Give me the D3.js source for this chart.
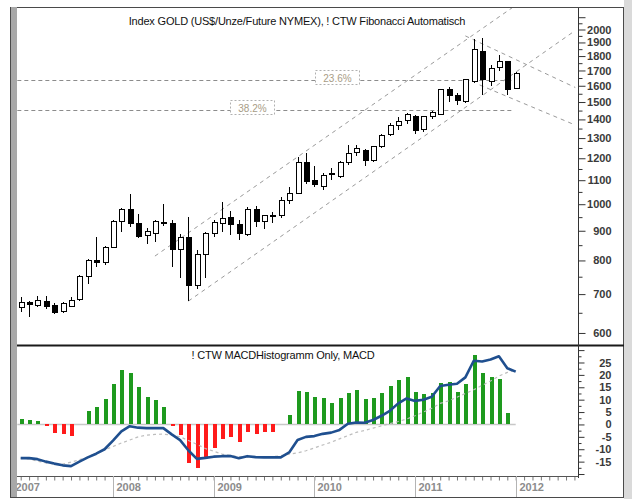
<!DOCTYPE html>
<html>
<head>
<meta charset="utf-8">
<script src="https://cdn.jsdelivr.net/npm/d3@7"></script>
<style>
    body { margin:0; background:#fff; }
    svg text { font-family:"Liberation Sans", Arial, sans-serif; }
</style>
</head>
<body>
<div id="chartWrapper"></div>
<script>
//monthly candles, Feb 2007 - Jan 2012
const months = [
    '2007-02','2007-03','2007-04','2007-05','2007-06','2007-07','2007-08','2007-09','2007-10','2007-11','2007-12',
    '2008-01','2008-02','2008-03','2008-04','2008-05','2008-06','2008-07','2008-08','2008-09','2008-10','2008-11','2008-12',
    '2009-01','2009-02','2009-03','2009-04','2009-05','2009-06','2009-07','2009-08','2009-09','2009-10','2009-11','2009-12',
    '2010-01','2010-02','2010-03','2010-04','2010-05','2010-06','2010-07','2010-08','2010-09','2010-10','2010-11','2010-12',
    '2011-01','2011-02','2011-03','2011-04','2011-05','2011-06','2011-07','2011-08','2011-09','2011-10','2011-11','2011-12',
    '2012-01'
];
const opens = [
    663,676,668,681,670,653,667,684,752,801,792,
    843,933,981,927,882,890,930,927,837,875,725,820,
    890,927,949,922,887,980,933,955,955,1015,1044,1180,
    1100,1072,1125,1115,1180,1226,1237,1191,1255,1319,1368,1393,
    1418,1345,1418,1430,1579,1541,1501,1625,1831,1625,1719,1760,
    1585
];
const highs = [
    692,680,694,694,676,679,692,755,804,879,848,
    938,984,1041,960,909,938,1000,938,890,952,833,897,
    940,1010,973,940,988,991,958,971,1030,1072,1206,1226,
    1166,1130,1155,1185,1266,1266,1245,1260,1320,1380,1416,1435,
    1425,1420,1445,1580,1592,1555,1645,1925,1932,1735,1811,1765,
    1690
];
const lows = [
    651,640,665,660,647,650,665,681,730,780,786,
    840,897,915,873,854,861,916,780,745,681,713,745,
    879,897,885,867,880,915,907,929,945,1000,1040,1085,
    1070,1060,1100,1110,1170,1210,1163,1180,1250,1310,1340,1375,
    1320,1330,1400,1425,1501,1482,1495,1615,1541,1600,1697,1541,
    1580
];
const closes = [
    676,672,683,667,650,674,683,752,801,792,843,
    933,981,927,881,896,933,926,837,875,725,820,890,
    929,945,923,890,980,933,955,955,1015,1044,1180,1095,
    1083,1122,1130,1180,1222,1247,1191,1255,1315,1364,1389,1430,
    1340,1418,1440,1574,1541,1508,1641,1844,1637,1713,1760,1574,
    1678
];

//MACD panel
const histogram = [
    2.1,1.6,1.2,-0.5,-3.6,-3.9,-4.6,0,5.5,7.1,10.1,
    16.5,21.9,20.6,15.2,11.1,9.8,7.1,-0.5,-4.3,-15.7,-17.7,-13.7,
    -9.7,-6.0,-5.2,-6.9,-3.0,-3.9,-3.0,-3.1,0,3.8,13.6,13.2,
    11.2,10.5,8.7,10.5,12.8,14.1,10.1,10.5,12.8,15.6,17.9,19.0,
    13.2,12.1,12.8,16.8,17.2,13.2,16.5,28.2,20.8,19.2,18.3,4.7,
    null
];
const macdLine = [
    -13.6,-13.6,-14.0,-15.0,-15.8,-16.5,-16.8,-15.0,-13.3,-11.8,-10.0,
    -6.5,-2.8,-0.7,-1.3,-1.5,-1.5,-1.5,-4.0,-6.3,-10.5,-13.9,-13.5,
    -13.0,-12.8,-12.7,-13.6,-12.8,-13.2,-13.3,-13.3,-13.3,-11.3,-6.3,-5.0,
    -4.7,-3.8,-3.3,-2.2,0.3,0.8,0.7,1.8,3.5,5.5,8.5,10.5,
    9.5,10.0,11.2,15.5,16.0,16.4,19.0,25.7,25.4,26.2,27.5,22.7,
    21.3
];
const signalLine = [
    -13.6,-14.0,-14.8,-15.5,-16.0,-16.0,-15.2,-14.2,-13.2,-11.5,-10.3,
    -8.9,-7.5,-6.3,-5.0,-4.3,-4.0,-3.9,-4.3,-5.0,-6.5,-8.0,-9.7,
    -10.8,-12.0,-12.5,-13.0,-13.0,-13.0,-13.0,-13.0,-12.6,-12.0,-11.5,-10.6,
    -9.5,-8.3,-7.2,-5.8,-4.5,-3.2,-2.4,-1.5,-0.6,0.3,1.2,2.2,
    3.5,5.0,6.5,8.5,9.5,11.0,12.5,14.0,15.8,17.5,19.5,21.0,
    22.0
];

//axis ticks and labels
const priceTicks = [600,700,800,900,1000,1100,1200,1300,1400,1500,1600,1700,1800,1900,2000,2100];
const priceMinorTicks = [650,750,850,950,1050,1150,1250,1350,1450,1550,1650,1750,1850,1950,2050];
const macdTicks = [-20,-15,-10,-5,0,5,10,15,20,25,30];
const macdMinorTicks = [-17.5,-12.5,-7.5,-2.5,2.5,7.5,12.5,17.5,22.5,27.5];
const yearLabels = ['2007','2008','2009','2010','2011','2012'];

//fibonacci levels: label, price, month position of the label box
const fibLabels = ['23.6%','38.2%'];
const fibPrices = [1637,1453];
const fibLabelAt = [36.1,25.9];

//trend lines: [month from, price from, month to, price to]
const trendLines = [
    [17.0,814,61.7,2290],
    [21.0,681,67.1,1992],
    [54.0,1950,67.1,1589],
    [55.7,1605,67.1,1369]
];

const CONSTANTS = {
    WIDTH:632,
    HEIGHT:499,
    FRAME_LEFT:10,      //outer frame line on the left
    PLOT_LEFT:17,       //inner edge of the gray band
    AXIS_X:578,         //the right value axis
    FRAME_RIGHT:624,
    FRAME_TOP:7,
    PRICE_TOP:8,
    PRICE_BOTTOM:345,
    MACD_TOP:347,
    MACD_BOTTOM:476,
    FRAME_BOTTOM:497,
    CANDLE_WIDTH:5,
    BAR_WIDTH:4,
    GREEN:'#1e9a1e',
    RED:'#ff1a1a',
    BLUE:'#1f4f8f'
};

//month position, Jan 2007 = 0
function monthIndex(s){
    let parts = s.split('-');
    return (+parts[0] - 2007) * 12 + (+parts[1] - 1);
}

function main(){
    let svg = d3.select('#chartWrapper')
        .append('svg')
        .attr('width',CONSTANTS.WIDTH)
        .attr('height',CONSTANTS.HEIGHT);

    let scales = buildScales();

    buildFrame(svg);
    buildClips(svg);
    buildPricePanel(svg,scales);
    buildMacdPanel(svg,scales);
    buildAxis(svg,scales);
    buildTitles(svg);
}

function buildScales(){
    let x = d3.scaleLinear().domain([0,60]).range([12.3,515.7]);
    let yPrice = d3.scaleLog().domain([572,2161]).range([CONSTANTS.PRICE_BOTTOM,10]);
    let yMacd = d3.scaleLinear().domain([-20.8,31.25]).range([CONSTANTS.MACD_BOTTOM,CONSTANTS.MACD_TOP]);
    return {x:x,yPrice:yPrice,yMacd:yMacd};
}

function buildFrame(svg){
    //gray band on the left
    svg.append('rect')
        .attr('x',CONSTANTS.FRAME_LEFT)
        .attr('y',CONSTANTS.FRAME_TOP)
        .attr('width',CONSTANTS.PLOT_LEFT - CONSTANTS.FRAME_LEFT)
        .attr('height',CONSTANTS.FRAME_BOTTOM - CONSTANTS.FRAME_TOP)
        .style('fill','#a8a8a8');
    //strip right of the frame
    svg.append('rect')
        .attr('x',CONSTANTS.FRAME_RIGHT)
        .attr('y',0)
        .attr('width',CONSTANTS.WIDTH - CONSTANTS.FRAME_RIGHT)
        .attr('height',CONSTANTS.HEIGHT)
        .style('fill','#dadada');

    svg.append('rect')
        .attr('x',CONSTANTS.FRAME_LEFT + 0.5)
        .attr('y',CONSTANTS.FRAME_TOP + 0.5)
        .attr('width',CONSTANTS.FRAME_RIGHT - CONSTANTS.FRAME_LEFT - 1)
        .attr('height',CONSTANTS.FRAME_BOTTOM - CONSTANTS.FRAME_TOP)
        .style('fill','none')
        .style('stroke','#4a4a4a');

    //panel separator
    svg.append('line')
        .attr('x1',CONSTANTS.PLOT_LEFT)
        .attr('x2',CONSTANTS.FRAME_RIGHT)
        .attr('y1',CONSTANTS.PRICE_BOTTOM + 0.5)
        .attr('y2',CONSTANTS.PRICE_BOTTOM + 0.5)
        .style('stroke','#1a1a1a')
        .style('stroke-width',2);
}

function buildClips(svg){
    let defs = svg.append('defs');
    defs.append('clipPath').attr('id','priceClip')
        .append('rect')
        .attr('x',CONSTANTS.PLOT_LEFT)
        .attr('y',CONSTANTS.PRICE_TOP)
        .attr('width',CONSTANTS.AXIS_X - CONSTANTS.PLOT_LEFT)
        .attr('height',CONSTANTS.PRICE_BOTTOM - CONSTANTS.PRICE_TOP - 1);
    defs.append('clipPath').attr('id','macdClip')
        .append('rect')
        .attr('x',CONSTANTS.PLOT_LEFT)
        .attr('y',CONSTANTS.MACD_TOP)
        .attr('width',CONSTANTS.AXIS_X - CONSTANTS.PLOT_LEFT)
        .attr('height',CONSTANTS.MACD_BOTTOM - CONSTANTS.MACD_TOP);
}

function buildPricePanel(svg,scales){
    let x = scales.x;
    let y = scales.yPrice;
    let g = svg.append('g').attr('clip-path','url(#priceClip)');

    //fibonacci levels
    fibPrices.forEach((p,i)=>{
        let ly = Math.round(y(p)) + 0.5;
        g.append('line')
            .attr('x1',x(0.6))
            .attr('x2',x(59.5))
            .attr('y1',ly)
            .attr('y2',ly)
            .style('stroke','#8c8c8c')
            .style('stroke-dasharray','4,3');
        let bx = Math.round(x(fibLabelAt[i])) + 0.5;
        g.append('rect')
            .attr('x',bx)
            .attr('y',ly - 10)
            .attr('width',44)
            .attr('height',14)
            .style('fill','#fff')
            .style('stroke','#b0b0b0')
            .style('stroke-dasharray','2,2');
        g.append('text')
            .text(fibLabels[i])
            .attr('x',bx + 22)
            .attr('y',ly + 1)
            .style('text-anchor','middle')
            .style('font-size','10px')
            .style('fill','#a89c86');
    });

    //trend channel lines
    g.selectAll('line.trend')
        .data(trendLines)
        .enter()
        .append('line')
        .attr('class','trend')
        .attr('x1',d=>x(d[0]))
        .attr('y1',d=>y(d[1]))
        .attr('x2',d=>x(d[2]))
        .attr('y2',d=>y(d[3]))
        .style('stroke','#9a9a9a')
        .style('stroke-dasharray','4,4');

    //candles
    let candles = months.map((m,i)=>({
        m:monthIndex(m), o:opens[i], h:highs[i], l:lows[i], c:closes[i]
    }));
    let cg = g.selectAll('g.candle')
        .data(candles)
        .enter()
        .append('g')
        .attr('class','candle')
        .attr('shape-rendering','crispEdges');
    cg.append('line')
        .attr('x1',d=>Math.round(x(d.m)) + 0.5)
        .attr('x2',d=>Math.round(x(d.m)) + 0.5)
        .attr('y1',d=>y(d.h))
        .attr('y2',d=>y(d.l))
        .style('stroke','#000');
    cg.append('rect')
        .attr('x',d=>Math.round(x(d.m)) - 2)
        .attr('y',d=>y(Math.max(d.o,d.c)))
        .attr('width',CONSTANTS.CANDLE_WIDTH)
        .attr('height',d=>Math.max(1,Math.abs(y(d.o) - y(d.c))))
        .style('fill',d=>d.c >= d.o ? '#fff' : '#000')
        .style('stroke','#000');
}

function buildMacdPanel(svg,scales){
    let x = scales.x;
    let y = scales.yMacd;
    let g = svg.append('g').attr('clip-path','url(#macdClip)');

    //zero line
    g.append('line')
        .attr('x1',x(0.6))
        .attr('x2',x(60))
        .attr('y1',y(0))
        .attr('y2',y(0))
        .style('stroke','#c8c8c8')
        .style('stroke-width',1.5);

    let bars = months.map((m,i)=>({m:monthIndex(m), v:histogram[i]}))
        .filter(d=>d.v !== null && d.v !== 0);
    g.selectAll('rect.hist')
        .data(bars)
        .enter()
        .append('rect')
        .attr('class','hist')
        .attr('shape-rendering','crispEdges')
        .attr('x',d=>Math.round(x(d.m)) - 1.5)
        .attr('y',d=>Math.min(y(d.v),y(0)))
        .attr('width',CONSTANTS.BAR_WIDTH)
        .attr('height',d=>Math.abs(y(d.v) - y(0)))
        .style('fill',d=>d.v > 0 ? CONSTANTS.GREEN : CONSTANTS.RED);

    let line = d3.line()
        .x(d=>x(d.m))
        .y(d=>y(d.v));

    g.append('path')
        .datum(months.map((m,i)=>({m:monthIndex(m), v:signalLine[i]})))
        .attr('d',line)
        .style('fill','none')
        .style('stroke','#bdbdbd')
        .style('stroke-width',1.2)
        .style('stroke-dasharray','3,3');

    g.append('path')
        .datum(months.map((m,i)=>({m:monthIndex(m), v:macdLine[i]})))
        .attr('d',line)
        .style('fill','none')
        .style('stroke',CONSTANTS.BLUE)
        .style('stroke-width',2.6)
        .style('stroke-linejoin','round');
}

function buildAxis(svg,scales){
    let axisX = CONSTANTS.AXIS_X + 0.5;

    //price axis
    let priceAxis = d3.axisRight(scales.yPrice)
        .tickValues(priceTicks)
        .tickSize(7)
        .tickFormat(d=>d === 2100 ? '' : d);
    let pa = svg.append('g')
        .attr('transform','translate(' + axisX + ',0)')
        .call(priceAxis);
    svg.append('g')
        .attr('transform','translate(' + axisX + ',0)')
        .call(d3.axisRight(scales.yPrice).tickValues(priceMinorTicks).tickSize(4).tickFormat(''));

    //macd axis
    let macdAxis = d3.axisRight(scales.yMacd)
        .tickValues(macdTicks)
        .tickSize(6)
        .tickFormat(d=>(d >= -15 && d <= 25) ? d : '');
    let ma = svg.append('g')
        .attr('transform','translate(' + axisX + ',0)')
        .call(macdAxis);
    svg.append('g')
        .attr('transform','translate(' + axisX + ',0)')
        .call(d3.axisRight(scales.yMacd).tickValues(macdMinorTicks).tickSize(3).tickFormat(''));

    svg.selectAll('g.tick line').style('stroke','#333');
    svg.selectAll('path.domain').remove();

    [pa,ma].forEach(a=>{
        a.selectAll('text')
            .attr('x',33)
            .style('text-anchor','end')
            .style('font-size','11px')
            .style('font-weight','bold')
            .style('fill','#3a3a3a');
    });

    //the value axis line, through both panels
    svg.append('line')
        .attr('x1',axisX)
        .attr('x2',axisX)
        .attr('y1',CONSTANTS.FRAME_TOP + 1)
        .attr('y2',CONSTANTS.MACD_BOTTOM + 2)
        .style('stroke','#333');

    //time axis
    let x = scales.x;
    let ta = svg.append('g')
        .attr('transform','translate(0,' + (CONSTANTS.MACD_BOTTOM + 0.5) + ')')
        .call(d3.axisBottom(x).tickValues(d3.range(0,68)).tickSize(4).tickFormat('').tickSizeOuter(0));
    ta.selectAll('path.domain').remove();
    ta.selectAll('line').style('stroke','#777');
    svg.append('line')
        .attr('x1',CONSTANTS.PLOT_LEFT)
        .attr('x2',axisX)
        .attr('y1',CONSTANTS.MACD_BOTTOM + 0.5)
        .attr('y2',CONSTANTS.MACD_BOTTOM + 0.5)
        .style('stroke','#555');

    //year separators and labels
    yearLabels.forEach((label,i)=>{
        let yx = Math.round(x(i * 12)) + 0.5;
        svg.append('line')
            .attr('x1',yx)
            .attr('x2',yx)
            .attr('y1',CONSTANTS.MACD_BOTTOM)
            .attr('y2',CONSTANTS.FRAME_BOTTOM)
            .style('stroke','#b4b4b4');
        svg.append('text')
            .text(label)
            .attr('x',yx + 3)
            .attr('y',491)
            .style('font-size','11px')
            .style('font-weight','bold')
            .style('fill','#8c8c8c');
    });

    //gray band covers the start of the time axis
    svg.append('rect')
        .attr('x',CONSTANTS.FRAME_LEFT)
        .attr('y',CONSTANTS.FRAME_TOP)
        .attr('width',CONSTANTS.PLOT_LEFT - CONSTANTS.FRAME_LEFT)
        .attr('height',CONSTANTS.FRAME_BOTTOM - CONSTANTS.FRAME_TOP)
        .style('fill','#a8a8a8');
    svg.append('line')
        .attr('x1',CONSTANTS.FRAME_LEFT + 0.5)
        .attr('x2',CONSTANTS.FRAME_LEFT + 0.5)
        .attr('y1',CONSTANTS.FRAME_TOP)
        .attr('y2',CONSTANTS.FRAME_BOTTOM + 1)
        .style('stroke','#4a4a4a');
}

function buildTitles(svg){
    svg.append('text')
        .text('Index GOLD (US$/Unze/Future NYMEX), ! CTW Fibonacci Automatisch')
        .attr('x',297)
        .attr('y',25)
        .style('text-anchor','middle')
        .style('font-size','11px')
        .style('letter-spacing','-0.2px')
        .style('fill','#111');
    svg.append('text')
        .text('! CTW MACDHistogramm Only, MACD')
        .attr('x',283)
        .attr('y',359)
        .style('text-anchor','middle')
        .style('font-size','11px')
        .style('letter-spacing','-0.2px')
        .style('fill','#111');
}

main();
</script>
</body>
</html>
